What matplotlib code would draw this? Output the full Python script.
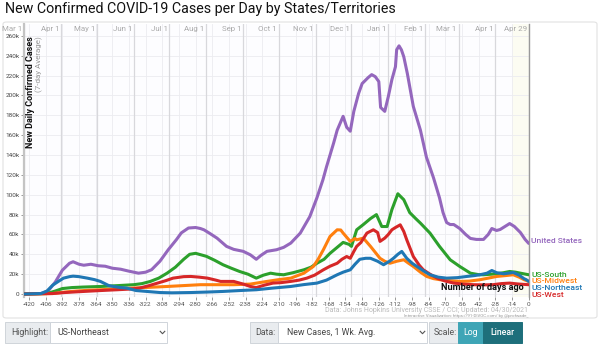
import datetime as dt
import matplotlib
matplotlib.use("Agg")
import matplotlib.pyplot as plt
from matplotlib.patches import FancyBboxPatch, Rectangle
from matplotlib.lines import Line2D

plt.rcParams['font.family'] = ['Roboto', 'DejaVu Sans']

# ---------------- data (days ago, thousands of cases) ----------------
us_days = [-424, -410, -404, -398, -392, -386, -383, -378, -374, -368, -362, -356, -350, -343,
           -336, -328, -322, -317, -310, -303, -296, -292, -286, -280, -276, -273, -268, -262,
           -254, -248, -240, -234, -229, -225, -220, -212, -206, -200, -192, -184, -178, -173,
           -170, -164, -161, -156, -153, -150, -147, -143, -140, -135, -132, -129, -126, -124.5,
           -121, -118, -115, -112, -111, -109, -107, -105, -102, -97, -91, -86, -80, -75, -72,
           -69, -66, -63, -58, -53, -49, -44, -38, -34, -31, -27, -24, -20, -16, -12, -7, -3, 0]
us_vals = [0.1, 0.5, 3, 12, 24, 31, 32.5, 30, 29, 30, 28.5, 28, 26, 25,
           23, 21, 22, 24.5, 33, 44.6, 55, 61.6, 66.5, 67, 66, 64.7, 61, 56.3,
           48, 45, 43, 39.5, 35, 39, 43, 44.6, 47, 51.3, 61.4, 78, 97, 115,
           128, 152, 165, 179, 168, 164, 184, 202, 212, 218, 221, 219, 214, 188,
           184, 199, 216, 229, 246, 250, 246, 239, 222, 189, 165, 138, 117, 97, 82,
           72, 70, 70, 66, 60, 56, 55, 55, 60, 66, 64, 65, 68, 71, 68, 62, 55, 51]

south_days = [-424, -405, -398, -392, -384, -375, -360, -345, -332, -325, -318, -311, -304, -297,
              -290, -285, -280, -271, -264, -257, -250, -243, -236, -229, -223, -217, -212, -206,
              -198, -189, -183, -178, -172, -167, -161, -156, -151, -149, -144.6, -139, -133, -128,
              -123.5, -119, -115, -110, -105, -100, -95, -91, -83, -75, -66, -58, -49, -42, -38,
              -31, -27, -21, -16, -11, -7, 0]
south_vals = [0, 0.5, 3, 5.5, 6.5, 7, 7.6, 8.5, 9.4, 10.5, 12.7, 16, 21, 27,
              35, 40, 41, 38, 34, 29.5, 26, 22.7, 20, 16, 19, 21, 20, 19.4,
              21.5, 24.4, 27, 31, 35, 41, 47, 52, 50, 48, 64.7, 70, 76, 80,
              68, 68, 85, 101, 95, 82, 76, 71.4, 61.4, 48, 34.5, 27.8, 21, 19.5, 19.4,
              20, 20.4, 21.5, 22.7, 22, 21, 19.4]

midwest_days = [-424, -400, -390, -380, -370, -360, -346, -332, -318, -304, -290, -276, -262, -248,
                -234, -220, -210, -200, -189, -181, -177, -172.6, -167, -161, -158, -156, -150,
                -146, -144.6, -139, -133, -129, -125, -121, -116.6, -111, -105, -101, -97, -91,
                -85.7, -80, -74.5, -66, -57.7, -50, -41, -34, -27, -20, -13, -8, -4, 0]
midwest_vals = [0, 0.5, 2, 3, 3.8, 4.3, 5.2, 6, 6.8, 7.6, 8.5, 9.4, 9.4, 9.4,
                10, 12.7, 14.5, 16, 21, 27.8, 35, 44.6, 58, 64.7, 64.5, 61.4, 53,
                56, 54.6, 56.3, 48, 42, 36, 33, 31, 33, 34.5, 31, 27.8, 22,
                17.7, 15.5, 14.4, 13.5, 12.7, 13, 14.4, 16, 17.7, 18.5, 19.4, 17, 14.5, 12.7]

northeast_days = [-424, -410, -405, -400, -395, -391, -386, -383, -378, -371, -365, -360, -353,
                  -349, -343, -338, -330, -321, -310, -300, -284, -270, -257, -243, -229, -215,
                  -200, -189, -178, -170, -161, -156, -150, -146, -142, -137, -133, -127, -122,
                  -117, -113.7, -110, -106.7, -102.5, -98, -94, -88, -83, -76, -69, -60, -52,
                  -46, -41, -35, -31, -27, -21, -17, -13, -8, -4, -2, 0]
northeast_vals = [0, 0.5, 3, 9, 13, 16, 17.5, 18, 17.5, 16, 14.5, 12.7, 8.5,
                  7.6, 6.5, 6, 3.5, 2.6, 1.5, 1.2, 1.5, 2, 2.6, 3.5, 4.3, 6,
                  7.6, 9.5, 11, 14, 19.4, 22, 24.4, 30, 35, 36, 36, 33, 29.5,
                  33, 36, 40, 42.9, 36, 31, 27.8, 23, 19.4, 17, 16, 16.5, 17.7,
                  18.5, 19.4, 21, 23.7, 21.5, 20.4, 21, 21.7, 19, 15.5, 14.4, 12.7]

west_days = [-424, -400, -390, -380, -374, -360, -346, -335, -327, -319, -312, -305, -299, -290,
             -284, -277, -270, -263, -259, -248, -240, -234, -229, -222, -215, -208, -200, -193,
             -186.5, -180, -172.6, -167, -161, -157, -153, -150, -147, -144.6, -141, -136, -130.6,
             -127, -125, -121, -118, -115, -112, -108, -105, -102.5, -97, -92, -88.6, -83, -77,
             -70, -63, -55, -46.5, -38, -30, -23, -16, -8, 0]
west_vals = [0, 0.5, 1.5, 2.2, 2.6, 3.5, 4.3, 5, 6, 8.5, 11, 13.5, 16, 17.5,
             17.7, 17, 16, 14, 12.7, 12.7, 10, 7.6, 6.5, 9, 11, 11.5, 12.7, 14,
             16, 19, 24.4, 28, 31, 35, 37.8, 36, 42.9, 48, 52, 61.4, 64.7,
             62, 53, 56.3, 60, 64.7, 67, 69.7, 63, 54.6, 37.8, 29, 24.4, 20, 16,
             13, 11, 10, 9.4, 9.2, 9.4, 10.5, 11, 10, 9.4]

series_names = ["United States", "US-South", "US-Midwest", "US-Northeast", "US-West"]
series_colors = ["#9467bd", "#2ca02c", "#ff7f0e", "#1f77b4", "#d62728"]
series_days = [us_days, south_days, midwest_days, northeast_days, west_days]
series_vals = [us_vals, south_vals, midwest_vals, northeast_vals, west_vals]

month_labels = ["Mar 1", "Apr 1", "May 1", "Jun 1", "Jul 1", "Aug 1", "Sep 1", "Oct 1",
                "Nov 1", "Dec 1", "Jan 1", "Feb 1", "Mar 1", "Apr 1", "Apr 29"]
month_dates = [dt.date(2020, 3, 1), dt.date(2020, 4, 1), dt.date(2020, 5, 1), dt.date(2020, 6, 1),
               dt.date(2020, 7, 1), dt.date(2020, 8, 1), dt.date(2020, 9, 1), dt.date(2020, 10, 1),
               dt.date(2020, 11, 1), dt.date(2020, 12, 1), dt.date(2021, 1, 1), dt.date(2021, 2, 1),
               dt.date(2021, 3, 1), dt.date(2021, 4, 1), dt.date(2021, 4, 29)]
last_date = dt.date(2021, 4, 29)

x_ticks = list(range(-420, 1, 14))
y_ticks = list(range(0, 261, 20))
y_tick_labels = ["0"] + [f"{v}k" for v in y_ticks[1:]]

# ---------------- layout ----------------
W, H = 600, 345
fig = plt.figure(figsize=(W / 100, H / 100), dpi=100)
fig.patch.set_facecolor("white")

def fx(x):
    return x / W

def fy(y):
    return 1 - y / H

# outer container (outline only)
fig.patches.append(FancyBboxPatch((fx(3), fy(318)), fx(594), 296 / H,
                                  boxstyle="round,pad=0,rounding_size=0.006",
                                  transform=fig.transFigure, facecolor="none",
                                  edgecolor="#e2e2e2", lw=0.8, zorder=-5))

ax_left, ax_right, ax_top, ax_bot = 24.3, 528.7, 24, 297
ax = fig.add_axes([fx(ax_left), fy(ax_bot), (ax_right - ax_left) / W, (ax_bot - ax_top) / H])
ax.set_zorder(2)
ax.set_facecolor("#fdfdff")
ax.set_xlim(-424, 0)
ax.set_ylim(-3, 272)

# faint shading near the end
ax.axvspan(-14, 0, color="#fcfcf2", zorder=0, lw=0)

# grid
for t in x_ticks:
    ax.axvline(t, color="#ececf0", lw=0.6, zorder=1)
for v in y_ticks:
    ax.axhline(v, color="#ececf0", lw=0.6, zorder=1)
month_days = [(d - last_date).days for d in month_dates]
for d in month_days:
    ax.axvline(d, color="#d8d8dc", lw=0.9, zorder=1)

# month labels at top
for lab, d in zip(month_labels, month_days):
    ax.text(d - 1.5, 266.5, lab, ha="right", va="center", fontsize=5.7, color="#aaaaaa",
            zorder=3, clip_on=False)

# series (highlighted northeast last)
order = [0, 1, 2, 4, 3]
for k, i in enumerate(order):
    ax.plot(series_days[i], series_vals[i], color=series_colors[i], lw=2.2,
            solid_capstyle="round", solid_joinstyle="round", zorder=5 + k)

# spines
for s in ["top", "bottom"]:
    ax.spines[s].set_visible(False)
ax.spines["left"].set_color("#c4c4c4")
ax.spines["left"].set_linewidth(1.6)
ax.spines["right"].set_color("#9a9a9a")
ax.spines["right"].set_linewidth(1.0)

ax.set_xticks(x_ticks)
ax.set_xticklabels([str(t) for t in x_ticks])
ax.set_yticks(y_ticks)
ax.set_yticklabels(y_tick_labels)
ax.tick_params(axis="both", labelsize=4.6, length=2, width=0.6, color="#888888", pad=1.5)
ax.tick_params(axis="y", labelcolor="#444444")
ax.tick_params(axis="x", labelcolor="#555555")

# end labels
label_y = [53.5, 19.4, 12.7, 6.0, -0.7]
for i in range(5):
    ax.text(2, label_y[i], series_names[i], color=series_colors[i], fontsize=6.1,
            fontweight="medium", ha="left", va="center", clip_on=False)

ax.text(-4, 6.5, "Number of days ago", ha="right", va="center", fontsize=6.6,
        fontweight="bold", color="#111111", zorder=20)

# y-axis label inside the plot
fig.text(fx(30.5), fy(36), "New Daily Confirmed Cases", rotation=90, ha="center", va="top",
         fontsize=6.5, fontweight="bold", color="#111111", zorder=10)
fig.text(fx(39.5), fy(36), "(7-day Average)", rotation=90, ha="center", va="top",
         fontsize=5.8, color="#999999", zorder=10)

# title
fig.text(fx(5), fy(9.5), "New Confirmed COVID-19 Cases per Day by States/Territories",
         ha="left", va="center", fontsize=10.3, color="#111111")

# source notes
fig.text(fx(528), fy(310), "Data: Johns Hopkins University CSSE / CCI; Updated: 04/30/2021",
         ha="right", va="center", fontsize=5.0, color="#bbbbbb")
fig.text(fx(528), fy(316.5), "Interactive Visualization: https://91-DIVOC.com/ by @profwade_",
         ha="right", va="center", fontsize=3.2, color="#999999")

# ---------------- controls ----------------
def box(x0, x1, y0, y1, fc, ec="#cfd4da", lw=0.7):
    fig.patches.append(Rectangle((fx(x0), fy(y1)), (x1 - x0) / W, (y1 - y0) / H,
                                 transform=fig.transFigure, facecolor=fc, edgecolor=ec, lw=lw))

def chevron(xc, yc):
    fig.add_artist(Line2D([fx(xc - 2.3), fx(xc), fx(xc + 2.3)], [fy(yc - 1.2), fy(yc + 1.2), fy(yc - 1.2)],
                          transform=fig.transFigure, color="#555555", lw=0.8))

cy0, cy1 = 322, 343
cyc = (cy0 + cy1) / 2
box(5, 50, cy0, cy1, "#e9ecef")
box(50, 167, cy0, cy1, "white")
fig.text(fx(11), fy(cyc), "Highlight:", ha="left", va="center", fontsize=6.3, color="#555555")
fig.text(fx(57), fy(cyc), "US-Northeast", ha="left", va="center", fontsize=6.3, color="#444444")
chevron(162.5, cyc)

box(250, 278, cy0, cy1, "#e9ecef")
box(278, 427, cy0, cy1, "white")
fig.text(fx(255), fy(cyc), "Data:", ha="left", va="center", fontsize=6.3, color="#555555")
fig.text(fx(287), fy(cyc), "New Cases, 1 Wk. Avg.", ha="left", va="center", fontsize=6.3, color="#444444")
chevron(422.5, cyc)

box(429, 458, cy0, cy1, "#e9ecef")
box(458, 483, cy0, cy1, "#3ea5b6", ec="#3ea5b6")
box(483, 522, cy0, cy1, "#1e6f7b", ec="#1e6f7b")
fig.text(fx(434), fy(cyc), "Scale:", ha="left", va="center", fontsize=6.3, color="#555555")
fig.text(fx(470.5), fy(cyc), "Log", ha="center", va="center", fontsize=6.3, color="white")
fig.text(fx(502.5), fy(cyc), "Linear", ha="center", va="center", fontsize=6.3, color="white",
         fontweight="medium")

fig.savefig("out.png", dpi=100, facecolor="white")
